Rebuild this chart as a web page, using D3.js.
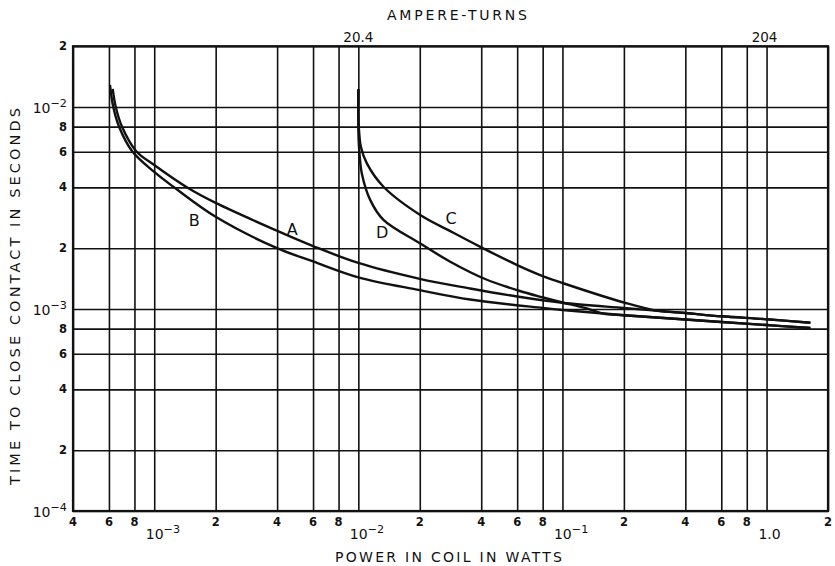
<!DOCTYPE html>
<html>
<head>
<meta charset="utf-8">
<script src="https://cdn.jsdelivr.net/npm/d3@7"></script>
<style>
  html, body { margin: 0; padding: 0; background: #fff; }
  svg { display: block; }
  text { font-family: "DejaVu Sans", "Liberation Sans", sans-serif; fill: #111; }
</style>
</head>
<body>
<svg id="chart" width="835" height="566"></svg>
<script>
// Power in coil (W) grid lines and their labels
const xTicks = [4e-4, 6e-4, 8e-4, 1e-3, 2e-3, 4e-3, 6e-3, 8e-3, 1e-2, 2e-2, 4e-2, 6e-2, 8e-2, 1e-1, 2e-1, 4e-1, 6e-1, 8e-1, 1, 2];
const xTickLabels = ["4", "6", "8", "10|-3", "2", "4", "6", "8", "10|-2", "2", "4", "6", "8", "10|-1", "2", "4", "6", "8", "1.0", "2"];

// Time to close contact (s) grid lines and their labels
const yTicks = [1e-4, 2e-4, 4e-4, 6e-4, 8e-4, 1e-3, 2e-3, 4e-3, 6e-3, 8e-3, 1e-2, 2e-2];
const yTickLabels = ["10|-4", "2", "4", "6", "8", "10|-3", "2", "4", "6", "8", "10|-2", "2"];

// Ampere-turns marked along the top edge, at the coil power they correspond to
const ampereTurns = ["20.4", "204"];
const ampereTurnsPower = [1e-2, 1.0];

// Curves: [power W, time s]
const curveA = [[6.26e-4, 1.23e-2], [6.48e-4, 1.0e-2], [6.93e-4, 8.05e-3], [8.14e-4, 6.06e-3], [1e-3, 5.16e-3],
  [1.465e-3, 3.97e-3], [2e-3, 3.35e-3], [4e-3, 2.44e-3], [6e-3, 2.05e-3], [1e-2, 1.69e-3], [2e-2, 1.41e-3],
  [3.53e-2, 1.264e-3], [6e-2, 1.153e-3], [1e-1, 1.074e-3], [2e-1, 1.012e-3], [0.29, 9.81e-4], [0.4, 9.55e-4],
  [0.6, 9.2e-4], [1.0, 8.9e-4], [1.64, 8.55e-4]];
const curveB = [[6.07e-4, 1.285e-2], [6.3e-4, 1.0e-2], [6.72e-4, 8.01e-3], [7.78e-4, 6.06e-3], [1e-3, 4.77e-3],
  [1.265e-3, 3.97e-3], [2e-3, 2.86e-3], [4e-3, 2.0e-3], [6e-3, 1.72e-3], [1e-2, 1.435e-3], [2e-2, 1.24e-3],
  [3.53e-2, 1.114e-3], [8e-2, 1.012e-3], [1e-1, 9.89e-4], [0.1585, 9.5e-4], [0.2, 9.32e-4], [0.4, 8.87e-4],
  [1.0, 8.33e-4], [1.64, 8.05e-4]];
const curveC = [[1e-2, 1.224e-2], [1e-2, 8.82e-3], [1.009e-2, 7.52e-3], [1.029e-2, 6.36e-3], [1.101e-2, 5.26e-3],
  [1.328e-2, 4.03e-3], [2.01e-2, 2.92e-3], [2.82e-2, 2.43e-3], [4e-2, 2.02e-3], [6e-2, 1.65e-3],
  [8e-2, 1.456e-3], [1e-1, 1.345e-3], [2e-1, 1.077e-3], [0.29, 9.81e-4], [0.4, 9.55e-4], [0.6, 9.2e-4],
  [1.0, 8.9e-4], [1.64, 8.55e-4]];
const curveD = [[1e-2, 1.224e-2], [1e-2, 8.15e-3], [1.004e-2, 6.8e-3], [1.013e-2, 5.9e-3], [1.04e-2, 4.69e-3],
  [1.143e-2, 3.47e-3], [1.328e-2, 2.76e-3], [2.01e-2, 2.11e-3], [2.82e-2, 1.715e-3], [4.18e-2, 1.408e-3],
  [6.07e-2, 1.235e-3], [8.05e-2, 1.14e-3], [1e-1, 1.077e-3], [0.129, 1.012e-3], [0.1585, 9.5e-4], [0.2, 9.32e-4],
  [0.4, 8.87e-4], [1.0, 8.33e-4], [1.64, 8.05e-4]];

const curveNames = ["A", "B", "C", "D"];
const curveData = [curveA, curveB, curveC, curveD];
// where each curve letter sits, in [power, time]
const curveLabelAt = [[4.74e-3, 2.49e-3], [1.57e-3, 2.76e-3], [2.85e-2, 2.82e-3], [1.31e-2, 2.4e-3]];

const svg = d3.select("#chart");
const plotLeft = 73, plotRight = 828, plotTop = 46.2, plotBottom = 511;

const x = d3.scaleLog().domain([4e-4, 2]).range([plotLeft, plotRight]);
const y = d3.scaleLog().domain([1e-4, 2e-2]).range([plotBottom, plotTop]);

// vertical grid
svg.append("g")
  .attr("transform", `translate(0,${plotBottom})`)
  .call(d3.axisBottom(x).tickValues(xTicks).tickSize(-(plotBottom - plotTop)).tickFormat(() => ""))
  .call(g => g.select(".domain").remove())
  .call(g => g.selectAll(".tick line").attr("stroke", "#111").attr("stroke-width", 1.6));

// horizontal grid
svg.append("g")
  .attr("transform", `translate(${plotLeft},0)`)
  .call(d3.axisLeft(y).tickValues(yTicks).tickSize(-(plotRight - plotLeft)).tickFormat(() => ""))
  .call(g => g.select(".domain").remove())
  .call(g => g.selectAll(".tick line").attr("stroke", "#111").attr("stroke-width", 1.6));

// frame
svg.append("rect")
  .attr("x", plotLeft).attr("y", plotTop)
  .attr("width", plotRight - plotLeft).attr("height", plotBottom - plotTop)
  .attr("fill", "none").attr("stroke", "#111").attr("stroke-width", 2.2);

// write "10|-3" as 10 with a superscript exponent
function writeLabel(sel, label, digitSize, baseSize) {
  if (label.includes("|")) {
    const [base, exp] = label.split("|");
    sel.append("tspan").attr("font-size", baseSize).text(base);
    sel.append("tspan").attr("font-size", baseSize * 0.8).attr("dy", -6).text(exp.replace("-", "\u2212"));
  } else {
    sel.attr("font-weight", "bold").attr("font-size", digitSize).text(label);
  }
}

// bottom tick labels
xTicks.forEach((v, i) => {
  const lab = xTickLabels[i];
  const isPow = lab.includes("|") || lab === "1.0";
  const t = svg.append("text")
    .attr("y", isPow ? 539 : 526)
    .attr("text-anchor", isPow ? "start" : "middle");
  if (lab.includes("|")) {
    t.attr("x", x(v) - 8.5);
    writeLabel(t, lab, 11.5, 14);
  } else if (lab === "1.0") {
    t.attr("x", x(v) + 3).attr("text-anchor", "middle").attr("font-size", 14).text(lab);
  } else {
    t.attr("x", x(v));
    writeLabel(t, lab, 11.5, 14);
  }
});

// left tick labels
yTicks.forEach((v, i) => {
  const lab = yTickLabels[i];
  const t = svg.append("text")
    .attr("x", plotLeft - 6)
    .attr("y", y(v) + (lab.includes("|") ? 6 : 4))
    .attr("text-anchor", "end");
  writeLabel(t, lab, 11.5, 14);
});

// ampere-turns along the top
ampereTurns.forEach((s, i) => {
  svg.append("text")
    .attr("x", x(ampereTurnsPower[i]) + (i === 1 ? -2 : 0))
    .attr("y", 42)
    .attr("text-anchor", "middle")
    .attr("font-size", 13.5)
    .text(s);
});

svg.append("text")
  .attr("x", 387).attr("y", 20)
  .attr("font-size", 14)
  .attr("textLength", 140).attr("lengthAdjust", "spacing")
  .text("AMPERE-TURNS");

svg.append("text")
  .attr("x", 335).attr("y", 562)
  .attr("font-size", 14)
  .attr("textLength", 227).attr("lengthAdjust", "spacing")
  .text("POWER IN COIL IN WATTS");

svg.append("text")
  .attr("transform", "translate(20,485) rotate(-90)")
  .attr("x", 0).attr("y", 0)
  .attr("font-size", 14.5)
  .attr("textLength", 377).attr("lengthAdjust", "spacing")
  .text("TIME TO CLOSE CONTACT IN SECONDS");

// curves
const line = d3.line()
  .x(d => x(d[0]))
  .y(d => y(d[1]))
  .curve(d3.curveCatmullRom.alpha(0.5));

svg.append("g")
  .selectAll("path")
  .data(curveData)
  .join("path")
  .attr("d", line)
  .attr("fill", "none")
  .attr("stroke", "#111")
  .attr("stroke-width", 2.4)
  .attr("stroke-linejoin", "round");

svg.append("g")
  .selectAll("text")
  .data(curveNames)
  .join("text")
  .attr("x", (d, i) => x(curveLabelAt[i][0]))
  .attr("y", (d, i) => y(curveLabelAt[i][1]) + 6)
  .attr("text-anchor", "middle")
  .attr("font-size", 16)
  .text(d => d);
</script>
</body>
</html>
